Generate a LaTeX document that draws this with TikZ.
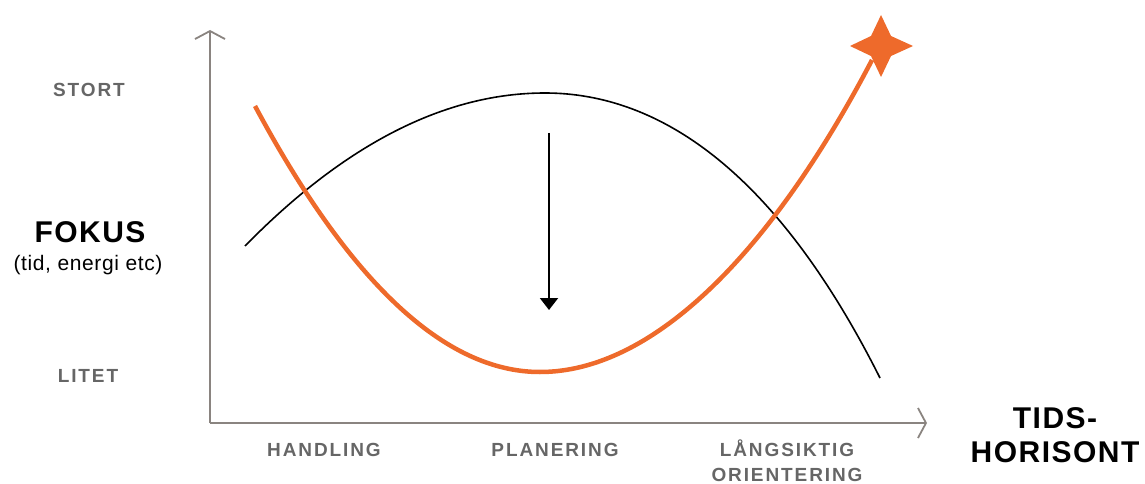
\documentclass[tikz,border=0pt]{standalone}
\usepackage{fontspec}
\setmainfont{Liberation Sans}
\newfontfamily\spaced[LetterSpace=10]{Liberation Sans}
\newfontfamily\spacedbig[LetterSpace=5]{Liberation Sans}
\newfontfamily\spacedsm[LetterSpace=3]{Liberation Sans}
\usetikzlibrary{arrows.meta}
\definecolor{axisgray}{HTML}{8A8480}
\definecolor{lblgray}{HTML}{666666}
\definecolor{orng}{HTML}{EE6A2B}
\begin{document}
\begin{tikzpicture}[x=1pt,y=-1pt,
  axis/.style={draw=axisgray,line width=1.8pt,-{Straight Barb[length=8pt,width=30pt,line width=1.8pt]}},
  lbl/.style={text=lblgray,font=\spaced\bfseries\fontsize{19}{26}\selectfont,align=center,inner sep=0pt},
  big/.style={text=black,font=\spacedbig\bfseries\fontsize{30}{36}\selectfont,align=center,inner sep=0pt},
  ]
\useasboundingbox (0,0) rectangle (1145,484);
\coordinate (o) at (210,423);
\coordinate (ytop) at (210,30);
\coordinate (xend) at (927,423);
\draw[axis] (o) -- (ytop);
\draw[axis] (o) -- (xend);
% black curve
\coordinate (b0) at (245,246);
\coordinate (bp) at (545,93);
\coordinate (b1) at (880,378);
\draw[black,line width=1.6pt] (b0) .. controls (345,144) and (445,93) .. (bp)
  .. controls (662,93) and (778,175) .. (b1);
% orange curve
\coordinate (r0) at (255,106);
\coordinate (rm) at (540,372);
\coordinate (r1) at (872,60);
\draw[orng,line width=4.5pt] (r0) .. controls (350,283) and (445,372) .. (rm)
  .. controls (652,372) and (770,255) .. (r1);
% star
\node (star) at (881,46) {};
\fill[orng] (881,15) -- (891,36) -- (913,46) -- (891,56) -- (881,77) -- (871,56) -- (850,46) -- (871,36) -- cycle;
% down arrow
\coordinate (a0) at (549,133);
\coordinate (a1) at (549,310);
\draw[black,line width=2pt,-{Triangle[length=12pt,width=18pt]}] (a0) -- (a1);
% labels
\node[lbl] (stort) at (89,90) {STORT};
\node[lbl] (litet) at (88,376) {LITET};
\node[big] (fokus) at (90,232) {FOKUS};
\node[inner sep=0pt,font=\spacedsm\fontsize{21}{24}\selectfont] (tid) at (88,265) {(tid, energi etc)};
\node[lbl] (handling) at (324,450) {HANDLING};
\node[lbl] (planering) at (555,450) {PLANERING};
\node[lbl] (lang) at (787,460.5) {LÅNGSIKTIG\\[-1.5pt]ORIENTERING};
\node[big] (tids) at (1055,435) {TIDS-\\[-2pt]HORISONT};
\end{tikzpicture}
\end{document}
